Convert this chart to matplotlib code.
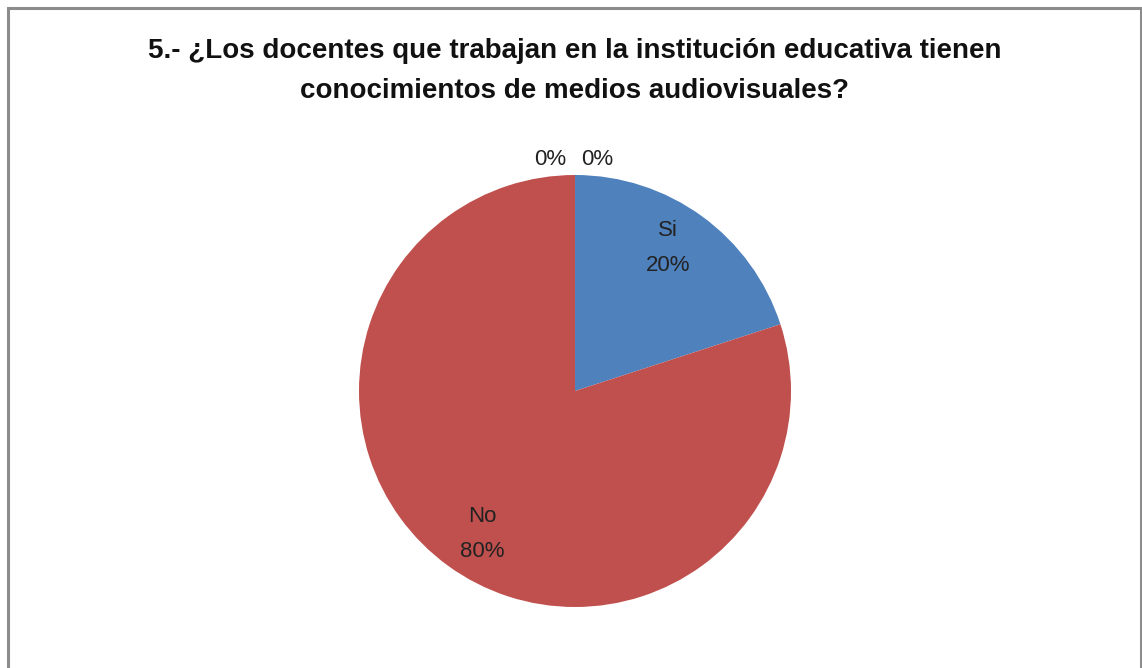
import numpy as np
import matplotlib.pyplot as plt
from matplotlib.patches import Rectangle

# data
categories = ['Si', 'No', 'A veces', 'Nunca']
values = [20, 80, 0, 0]
colors = ['#4F81BD', '#C0504D', '#9BBB59', '#8064A2']
title = '5.- ¿Los docentes que trabajan en la institución educativa tienen\nconocimientos de medios audiovisuales?'

W, H = 1142, 668
fig = plt.figure(figsize=(W / 100, H / 100), dpi=100)
fig.patch.set_facecolor('white')

# chart border (bottom edge runs off the image)
fig.patches.append(Rectangle((7.5 / W, -0.05), (1140.5 - 7.5) / W, 1.05 - 7.5 / H,
                             transform=fig.transFigure, fill=False,
                             edgecolor='#8C8C8C', linewidth=2.2))

cx, cy, r = 575, 668 - 391, 216
ax = fig.add_axes([(cx - r) / W, (cy - r) / H, 2 * r / W, 2 * r / H])

font = ['Liberation Sans', 'DejaVu Sans']
wedges, _ = ax.pie(values, colors=colors, startangle=90, counterclock=False,
                   radius=1, wedgeprops=dict(linewidth=0))
ax.set_xlim(-1, 1)
ax.set_ylim(-1, 1)
ax.set_aspect('equal')
ax.axis('off')

# labels for the non-zero slices inside, zero slices just outside the top
total = sum(values)
for w, name, v in zip(wedges, categories, values):
    ang = np.deg2rad((w.theta1 + w.theta2) / 2 + 3)
    pct = '%d%%' % round(100 * v / total)
    if v > 0:
        d = 0.79
        ax.text(d * np.cos(ang), d * np.sin(ang), name + '\n' + pct,
                ha='center', va='center', fontsize=16, family=font,
                linespacing=1.85, color='#222222')
zero = [p for p in zip(categories, values) if p[1] == 0]
for i, (name, v) in enumerate(zero):
    ax.text(-0.115 + 0.22 * i, 1.025, '0%', ha='center', va='bottom',
            fontsize=16, family=font, color='#222222', clip_on=False)

fig.text(cx / W, 1 - 71 / H, title, ha='center', va='center', fontsize=20,
         fontweight='bold', family=['Liberation Sans', 'DejaVu Sans'],
         linespacing=1.75, color='#111111')

fig.savefig('out.png', dpi=100)
